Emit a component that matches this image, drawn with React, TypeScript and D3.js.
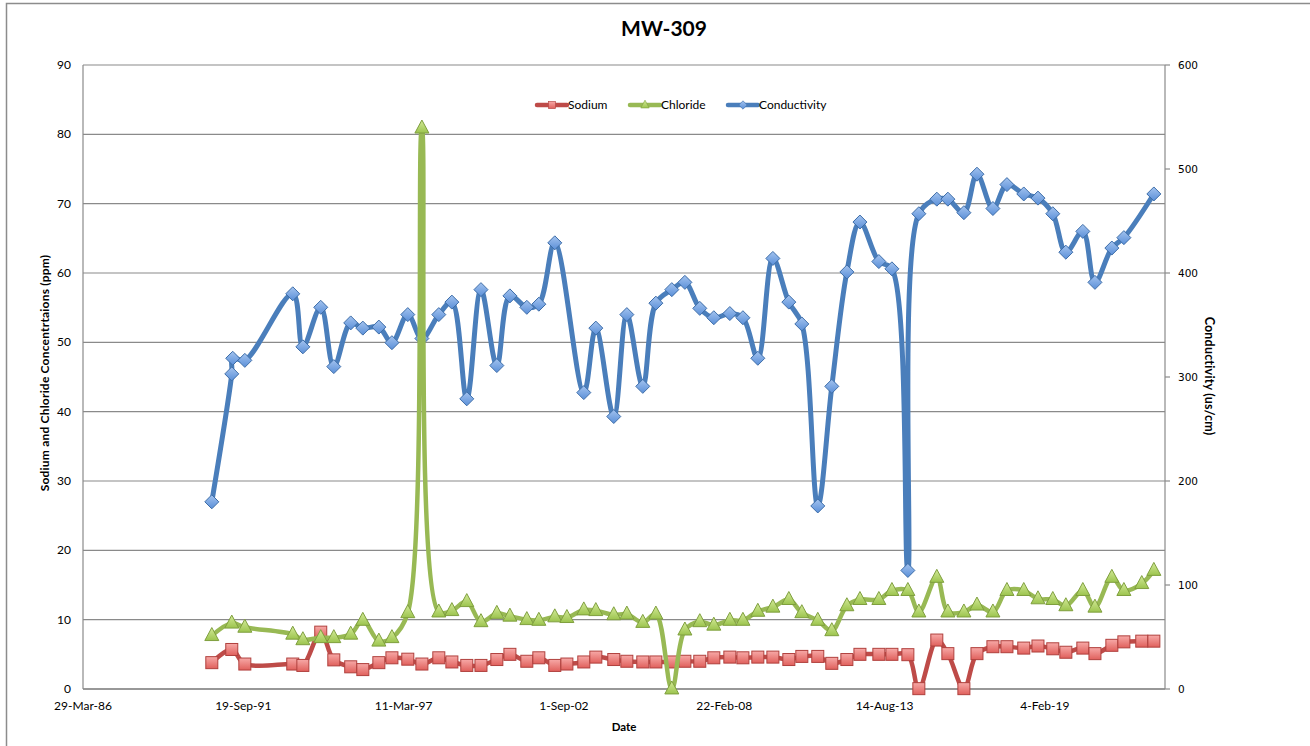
import React from "react";
import * as d3 from "d3";

const sampleDates = [
  "1990-08-22", "1991-04-28", "1991-10-08", "1993-05-28", "1993-10-01", "1994-05-12", "1994-10-22",
  "1995-05-21", "1995-10-19", "1996-05-06", "1996-10-16", "1997-05-02", "1997-10-25", "1998-05-24",
  "1998-11-03", "1999-05-08", "1999-11-01", "2000-05-17", "2000-10-27", "2001-05-26", "2001-10-23",
  "2002-05-10", "2002-10-08", "2003-05-07", "2003-10-04", "2004-05-15", "2004-10-25", "2005-05-12",
  "2005-10-22", "2006-05-09", "2006-10-19", "2007-04-23", "2007-10-15", "2008-05-02", "2008-10-12",
  "2009-04-16", "2009-10-21", "2010-05-08", "2010-10-17", "2011-05-04", "2011-10-26", "2012-05-01",
  "2012-10-11", "2013-06-04", "2013-11-14", "2014-06-01", "2014-10-16", "2015-05-28", "2015-10-13",
  "2016-04-30", "2016-10-10", "2017-04-27", "2017-10-19", "2018-05-17", "2018-11-10", "2019-05-14",
  "2019-10-24", "2020-05-23", "2020-10-21", "2021-05-20", "2021-10-17", "2022-05-28", "2022-10-26",
];

const sodium = [
  3.8, 5.7, 3.6, 3.6, 3.4, 8.2, 4.2, 3.2, 2.8, 3.8,
  4.5, 4.3, 3.6, 4.5, 3.9, 3.4, 3.4, 4.25, 5.0, 4.0,
  4.5, 3.4, 3.6, 3.9, 4.6, 4.25, 4.0, 3.9, 3.9, 3.9,
  4.0, 4.0, 4.5, 4.6, 4.5, 4.6, 4.6, 4.25, 4.7, 4.7,
  3.7, 4.25, 5.0, 5.0, 5.0, 4.95, 0.05, 7.06, 5.1, 0.05,
  5.1, 6.1, 6.1, 5.9, 6.2, 5.8, 5.3, 5.9, 5.1, 6.3,
  6.8, 6.9, 6.9,
];

const chloride = [
  7.7, 9.5, 8.9, 7.9, 7.1, 7.4, 7.4, 7.9, 9.9, 6.9,
  7.4, 11.0, 80.9, 11.1, 11.3, 12.6, 9.7, 10.9, 10.5, 10.0,
  9.9, 10.4, 10.3, 11.4, 11.3, 10.7, 10.8, 9.6, 10.8, 0.0,
  8.5, 9.7, 9.2, 9.9, 9.9, 11.2, 11.8, 12.9, 11.0, 9.9,
  8.4, 12.0, 12.9, 12.9, 14.2, 14.2, 11.1, 16.1, 11.1, 11.1,
  12.1, 11.1, 14.2, 14.2, 13.0, 12.9, 12.0, 14.2, 11.8, 16.1,
  14.2, 15.2, 17.1,
];

const conductivityDates = [
  "1990-08-22", "1991-04-28", "1991-05-10", "1991-10-08", "1993-05-28", "1993-10-01", "1994-05-12",
  "1994-10-22", "1995-05-21", "1995-10-19", "1996-05-06", "1996-10-16", "1997-05-02", "1997-10-25",
  "1998-05-24", "1998-11-03", "1999-05-08", "1999-11-01", "2000-05-17", "2000-10-27", "2001-05-26",
  "2001-10-23", "2002-05-10", "2003-05-07", "2003-10-04", "2004-05-15", "2004-10-25", "2005-05-12",
  "2005-10-22", "2006-05-09", "2006-10-19", "2007-04-23", "2007-10-15", "2008-05-02", "2008-10-12",
  "2009-04-16", "2009-10-21", "2010-05-08", "2010-10-17", "2011-05-04", "2011-10-26", "2012-05-01",
  "2012-10-11", "2013-06-04", "2013-11-14", "2014-06-01", "2014-10-16", "2015-05-28", "2015-10-13",
  "2016-04-30", "2016-10-10", "2017-04-27", "2017-10-19", "2018-05-17", "2018-11-10", "2019-05-14",
  "2019-10-24", "2020-05-23", "2020-10-21", "2021-05-20", "2021-10-17", "2022-10-26",
];

const conductivity = [
  180, 303, 318, 316, 380, 329, 367,
  310, 352, 347, 348, 333, 360, 337,
  360, 372, 279, 384, 311, 378, 367,
  370, 429, 285, 347, 262, 360, 291,
  371, 384, 391, 366, 357, 361, 357,
  318, 414, 372, 351, 176, 291, 401,
  449, 411, 404, 114, 457, 471, 471,
  458, 495, 462, 485, 476, 472, 457,
  420, 440, 391, 424, 434, 476,
];

const xDomain = ["1986-03-29", "2023-03-14"];
const xTicks = ["1986-03-29", "1991-09-19", "1997-03-11", "2002-09-01", "2008-02-22", "2013-08-14", "2019-02-04"];
const leftTicks = [0, 10, 20, 30, 40, 50, 60, 70, 80, 90];
const rightTicks = [0, 100, 200, 300, 400, 500, 600];

const title = "MW-309";
const leftTitle = "Sodium and Chloride  Concentrtaions  (ppm)";
const rightTitle = "Conductivity  (us/cm)";
const xTitle = "Date";
const seriesNames = ["Sodium", "Chloride", "Conductivity"];

const parse = d3.utcParse("%Y-%m-%d");
const fmt = d3.utcFormat("%-d-%b-%y");

const W = 1310;
const H = 746;
const plot = { left: 83, right: 1165, top: 65, bottom: 689 };

const RED = "#be4b48";
const GREEN = "#98b954";
const BLUE = "#4a7ebb";
const FONT = "Lato, 'Open Sans', sans-serif";

function Square({ x, y }: { x: number; y: number }) {
  const s = 12;
  return <rect x={x - s / 2} y={y - s / 2} width={s} height={s} fill="url(#gRed)" stroke="#b0403d" strokeWidth={1} />;
}
function Triangle({ x, y }: { x: number; y: number }) {
  const w = 14, h = 13;
  return (
    <path
      d={`M${x},${y - h * 0.62}L${x + w / 2},${y + h * 0.38}L${x - w / 2},${y + h * 0.38}Z`}
      fill="url(#gGreen)"
      stroke="#7f9f3e"
      strokeWidth={1}
      strokeLinejoin="round"
    />
  );
}
function Diamond({ x, y }: { x: number; y: number }) {
  const r = 7;
  return (
    <path
      d={`M${x},${y - r}L${x + r},${y}L${x},${y + r}L${x - r},${y}Z`}
      fill="url(#gBlue)"
      stroke="#3d6da8"
      strokeWidth={1}
    />
  );
}

export default function App() {
  const x = d3.scaleUtc().domain(xDomain.map((d) => parse(d) as Date)).range([plot.left, plot.right]);
  const yL = d3.scaleLinear().domain([0, 90]).range([plot.bottom, plot.top]);
  const yR = d3.scaleLinear().domain([0, 600]).range([plot.bottom, plot.top]);

  const naPts = sampleDates.map((d, i) => [x(parse(d) as Date), yL(sodium[i])] as [number, number]);
  const clPts = sampleDates.map((d, i) => [x(parse(d) as Date), yL(chloride[i])] as [number, number]);
  const coPts = conductivityDates.map((d, i) => [x(parse(d) as Date), yR(conductivity[i])] as [number, number]);

  const line = d3.line().curve(d3.curveCatmullRom.alpha(0.5));

  const legendY = 105;
  const legendItems = [
    { name: seriesNames[0], x0: 537, color: RED, M: Square },
    { name: seriesNames[1], x0: 630, color: GREEN, M: Triangle },
    { name: seriesNames[2], x0: 728, color: BLUE, M: Diamond },
  ];

  return (
    <svg width={W} height={H} style={{ position: "absolute", left: 0, top: 0, background: "#fff" }} fontFamily={FONT}>
      <defs>
        <linearGradient id="gRed" x1="0" y1="0" x2="0" y2="1">
          <stop offset="0" stopColor="#f7a9a7" />
          <stop offset="1" stopColor="#e0605c" />
        </linearGradient>
        <linearGradient id="gGreen" x1="0" y1="0" x2="0" y2="1">
          <stop offset="0" stopColor="#d3ea98" />
          <stop offset="1" stopColor="#9cc44e" />
        </linearGradient>
        <linearGradient id="gBlue" x1="0" y1="0" x2="0" y2="1">
          <stop offset="0" stopColor="#a3c3ef" />
          <stop offset="1" stopColor="#5a8fd8" />
        </linearGradient>
      </defs>
      <rect x={6.5} y={3.5} width={1400} height={800} fill="#fff" stroke="#8c8c8c" strokeWidth={1.5} />

      <text x={664} y={36} textAnchor="middle" fontSize={21} fontWeight="bold" fill="#000">{title}</text>

      {leftTicks.map((t) => (
        <line key={"g" + t} x1={plot.left} x2={plot.right} y1={yL(t)} y2={yL(t)} stroke="#8a8a8a" strokeWidth={1.2} />
      ))}
      <line x1={plot.left} x2={plot.left} y1={plot.top} y2={plot.bottom} stroke="#8a8a8a" strokeWidth={1.2} />
      <line x1={plot.right} x2={plot.right} y1={plot.top} y2={plot.bottom} stroke="#8a8a8a" strokeWidth={1.2} />
      <line x1={plot.left} x2={plot.right} y1={plot.bottom} y2={plot.bottom} stroke="#8a8a8a" strokeWidth={1.5} />

      {leftTicks.map((t) => (
        <text key={"l" + t} x={71} y={yL(t) + 4} textAnchor="end" fontSize={12} fill="#000">{t}</text>
      ))}
      {rightTicks.map((t) => (
        <g key={"r" + t}>
          <line x1={plot.right} x2={plot.right + 5} y1={yR(t)} y2={yR(t)} stroke="#8a8a8a" strokeWidth={1.2} />
          <text x={1178} y={yR(t) + 4} fill="#000" fontFamily="'DejaVu Sans', Verdana, sans-serif" fontSize={10.5}>{t}</text>
        </g>
      ))}
      {xTicks.map((t) => (
        <text key={"x" + t} x={x(parse(t) as Date)} y={710} textAnchor="middle" fontSize={12} fill="#000">{fmt(parse(t) as Date)}</text>
      ))}

      <text x={624} y={731} textAnchor="middle" fontSize={11.5} fontWeight="bold" fill="#000">{xTitle}</text>
      <text transform={`translate(49,373) rotate(-90)`} textAnchor="middle" fontSize={12} fontWeight="bold" letterSpacing={0.2} fill="#000">{leftTitle}</text>
      <text transform={`translate(1205,376) rotate(90)`} textAnchor="middle" fontSize={12.5} fontWeight="bold" letterSpacing={0.2} fill="#000">{rightTitle}</text>

      <path d={line(coPts) || ""} fill="none" stroke={BLUE} strokeWidth={5} strokeLinejoin="round" strokeLinecap="round" />
      {coPts.map((p, i) => <Diamond key={"c" + i} x={p[0]} y={p[1]} />)}

      <path d={line(naPts) || ""} fill="none" stroke={RED} strokeWidth={4.5} strokeLinejoin="round" strokeLinecap="round" />
      {naPts.map((p, i) => <Square key={"n" + i} x={p[0]} y={p[1]} />)}

      <path d={line(clPts) || ""} fill="none" stroke={GREEN} strokeWidth={4.5} strokeLinejoin="round" strokeLinecap="round" />
      {clPts.map((p, i) => <Triangle key={"t" + i} x={p[0]} y={p[1]} />)}

      {legendItems.map(({ name, x0, color, M }) => (
        <g key={name}>
          <line x1={x0} x2={x0 + 30} y1={legendY} y2={legendY} stroke={color} strokeWidth={4.5} strokeLinecap="round" />
          <g transform={`translate(${x0 + 15},${legendY}) scale(0.6) translate(${-(x0 + 15)},${-legendY})`}>
            <M x={x0 + 15} y={legendY} />
          </g>
          <text x={x0 + 31} y={legendY + 4} fontSize={12} fill="#000">{name}</text>
        </g>
      ))}
    </svg>
  );
}
